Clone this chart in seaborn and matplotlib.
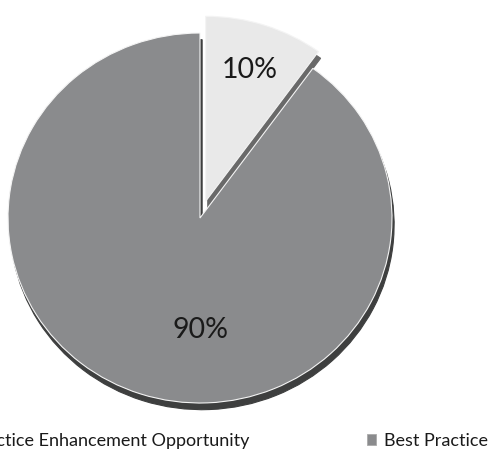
import matplotlib
matplotlib.use("Agg")
import matplotlib.pyplot as plt
import seaborn as sns

categories = ["Practice Enhancement Opportunity", "Best Practice"]
values = [10, 90]
pct_labels = ["10%", "90%"]
colors = ["#e9e9e9", "#8a8b8d"]

sns.set_theme(style="white")
plt.rcParams["font.family"] = ["Lato", "DejaVu Sans"]

W, H = 489, 454
fig = plt.figure(figsize=(W / 100, H / 100), dpi=100)
# pie face: centre (200, 218) px, radii 192 x 185 px
cx, cy, rx, ry = 200, 218, 192, 185
ax = fig.add_axes([(cx - rx) / W, (H - cy - ry) / H, 2 * rx / W, 2 * ry / H])

wedges, texts = ax.pie(
    values,
    colors=colors,
    startangle=90,
    counterclock=False,
    explode=[0.095, 0],
    radius=1,
    wedgeprops=dict(edgecolor="#f4f4f4", linewidth=0.8),
    shadow=dict(ox=0.008, oy=-0.026, shade=0.55, alpha=1.0),
)
ax.set_xlim(-1, 1)
ax.set_ylim(-1, 1)
ax.set_aspect("auto")
ax.axis("off")

ax.text(0.26, 0.80, pct_labels[0], ha="center", va="center", fontsize=20.5, color="#1a1a1a")
ax.text(0.0, -0.605, pct_labels[1], ha="center", va="center", fontsize=20.5, color="#1a1a1a")

fs = 13
ly = 1 - 441 / H
leg = fig.legend(
    wedges, categories, ncol=2, loc="center left",
    bbox_to_anchor=(0, ly), frameon=False, fontsize=fs,
    handlelength=0.5, handleheight=0.5, handletextpad=0.45, columnspacing=6.5,
    labelcolor="#1a1a1a", borderpad=0, borderaxespad=0,
)
for h in leg.legend_handles:
    h.set_edgecolor("#aaaaaa")
    h.set_linewidth(0.6)

fig.canvas.draw()
bb = leg.get_texts()[1].get_window_extent()
shift = (W - 1) - bb.x1
leg.set_bbox_to_anchor((shift / W, ly), transform=fig.transFigure)

fig.savefig("out.png", dpi=100)
